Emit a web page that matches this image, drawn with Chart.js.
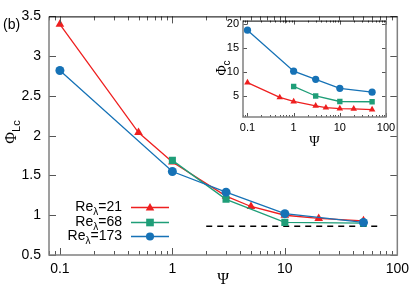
<!DOCTYPE html>
<html><head><meta charset="utf-8">
<script src="https://cdn.jsdelivr.net/npm/chart.js@4/dist/chart.umd.min.js"></script>
<style>
html,body{margin:0;padding:0;background:#fff;}
#wrap{position:relative;width:415px;height:288px;}
#main{position:absolute;left:0;top:0;}
#inset{position:absolute;left:200px;top:10px;}
</style></head>
<body><div id="wrap"><canvas id="main" width="415" height="288"></canvas><canvas id="inset" width="200" height="140"></canvas></div>
<script>
// ---- data (main panel: Phi_Lc vs Psi) ----
const psiRe21 = [0.1, 0.5, 1, 3, 5, 10, 20, 50];
const phiLcRe21 = [3.40, 2.04, 1.67, 1.24, 1.11, 1.00, 0.96, 0.93];
const psiRe68 = [1, 3, 10, 50];
const phiLcRe68 = [1.69, 1.20, 0.91, 0.90];
const psiRe173 = [0.1, 1, 3, 10, 50];
const phiLcRe173 = [2.82, 1.55, 1.29, 1.02, 0.91];
const dashX = [2, 72];
const dashY = [0.86, 0.86];
// ---- data (inset: Phi_c vs Psi) ----
const phiCRe21 = [7.8, 4.7, 3.85, 2.95, 2.55, 2.35, 2.3, 2.15];
const phiCRe68 = [7.0, 5.0, 3.85, 3.8];
const phiCRe173 = [18.8, 10.2, 8.5, 6.6, 5.8];
// ---- ticks / labels ----
const xMajorTicks = [0.1, 1, 10, 100];
const yMainTicks = [0.5, 1, 1.5, 2, 2.5, 3, 3.5];
const yInsetTicks = [5, 10, 15, 20];
const seriesLabels = ['21', '68', '173'];

const RED = '#ee1f1f', GREEN = '#1f9e78', BLUE = '#1672b6';
const FONT = "'Liberation Sans', Arial, sans-serif";
const SERIF = "'Liberation Serif', 'DejaVu Serif', serif";

function pts(xs, ys) { return xs.map((x, i) => ({x: x, y: ys[i]})); }

function frameTicks(chart, o) {
  const ctx = chart.ctx, a = chart.chartArea, sx = chart.scales.x, sy = chart.scales.y;
  ctx.save();
  ctx.strokeStyle = '#555'; ctx.lineWidth = 1;
  ctx.beginPath();
  const xmin = sx.min, xmax = sx.max;
  for (let d = 0.01; d <= 100; d *= 10) {
    for (let k = 1; k <= 9; k++) {
      const v = k * d;
      if (v < xmin * 0.999 || v > xmax * 1.001) continue;
      const p = Math.round(sx.getPixelForValue(v)) + 0.5;
      const len = k === 1 ? o.major : o.minor;
      ctx.moveTo(p, a.bottom); ctx.lineTo(p, a.bottom - len);
      ctx.moveTo(p, a.top); ctx.lineTo(p, a.top + len);
    }
  }
  o.yTicks.forEach(v => {
    const p = Math.round(sy.getPixelForValue(v)) + 0.5;
    ctx.moveTo(a.left, p); ctx.lineTo(a.left + o.major, p);
    ctx.moveTo(a.right, p); ctx.lineTo(a.right - o.major, p);
  });
  ctx.stroke();
  ctx.strokeStyle = '#808080'; ctx.lineWidth = 1.5;
  ctx.beginPath();
  ctx.moveTo(a.left, a.top); ctx.lineTo(a.left, a.bottom); ctx.lineTo(a.right, a.bottom); ctx.lineTo(a.right, a.top);
  ctx.stroke();
  ctx.strokeStyle = '#000'; ctx.lineWidth = 1;
  ctx.beginPath(); ctx.moveTo(a.left, a.top + 0.5); ctx.lineTo(a.right, a.top + 0.5); ctx.stroke();
  ctx.restore();
}

function drawSubLabel(ctx, x, y, main, sub, size, subSize, rotate) {
  ctx.save();
  ctx.translate(x, y);
  if (rotate) ctx.rotate(-Math.PI / 2);
  ctx.fillStyle = '#000';
  ctx.textBaseline = 'alphabetic';
  ctx.font = size + 'px ' + SERIF;
  const w1 = ctx.measureText(main).width;
  ctx.font = subSize + 'px ' + FONT;
  const w2 = ctx.measureText(sub).width;
  const start = -(w1 + w2) / 2;
  ctx.font = size + 'px ' + SERIF;
  ctx.textAlign = 'left';
  ctx.fillText(main, start, size * 0.35);
  ctx.font = subSize + 'px ' + FONT;
  ctx.fillText(sub, start + w1, size * 0.35 + size * 0.3);
  ctx.restore();
}

function marker(ctx, style, x, y, color, r) {
  ctx.save(); ctx.fillStyle = color; ctx.beginPath();
  if (style === 'triangle') { ctx.moveTo(x, y - r); ctx.lineTo(x + r * 0.95, y + r * 0.65); ctx.lineTo(x - r * 0.95, y + r * 0.65); ctx.closePath(); }
  else if (style === 'rect') { ctx.rect(x - r * 0.85, y - r * 0.85, r * 1.7, r * 1.7); }
  else { ctx.arc(x, y, r * 0.9, 0, Math.PI * 2); }
  ctx.fill(); ctx.restore();
}

const mainPlugin = {
  id: 'mainDeco',
  afterDraw(chart) {
    frameTicks(chart, {major: 7, minor: 4, yTicks: yMainTicks});
    const ctx = chart.ctx, a = chart.chartArea;
    // axis titles
    ctx.save(); ctx.fillStyle = '#000'; ctx.font = '16px ' + SERIF; ctx.textAlign = 'center'; ctx.textBaseline = 'middle';
    ctx.fillText('\u03A8', (a.left + a.right) / 2, 280);
    ctx.font = '14px ' + FONT; ctx.textAlign = 'left';
    ctx.fillText('(b)', 3, 25);
    ctx.restore();
    drawSubLabel(ctx, 10, 132, '\u03A6', 'Lc', 16, 11, true);
    // legend
    const rows = [207, 222, 236];
    const cols = [RED, GREEN, BLUE];
    const styles = ['triangle', 'rect', 'circle'];
    rows.forEach((yy, i) => {
      ctx.save();
      ctx.fillStyle = '#000'; ctx.textBaseline = 'middle'; ctx.textAlign = 'left';
      ctx.font = '14px ' + FONT;
      const t1 = 'Re', t3 = '=' + seriesLabels[i];
      const w1 = ctx.measureText(t1).width, w3 = ctx.measureText(t3).width;
      ctx.font = '10px ' + FONT;
      const w2 = ctx.measureText('\u03BB').width;
      const right = 122;
      const x0 = right - w1 - w2 - w3;
      ctx.font = '14px ' + FONT;
      ctx.fillText(t1, x0, yy);
      ctx.font = '10px ' + FONT;
      ctx.fillText('\u03BB', x0 + w1, yy + 5);
      ctx.font = '14px ' + FONT;
      ctx.fillText(t3, x0 + w1 + w2, yy);
      ctx.strokeStyle = cols[i]; ctx.lineWidth = 1.4;
      ctx.beginPath(); ctx.moveTo(131, yy + 0.5); ctx.lineTo(169, yy + 0.5); ctx.stroke();
      marker(ctx, styles[i], 150, yy + 0.5, cols[i], 4.5);
      ctx.restore();
    });
  }
};

function lineDs(label, xs, ys, color, style, r, order) {
  return {label: label, data: pts(xs, ys), borderColor: color, backgroundColor: color,
    borderWidth: 1.3, pointStyle: style, pointRadius: r, pointBorderWidth: 0, pointHoverRadius: r,
    tension: 0, order: order};
}

new Chart(document.getElementById('main'), {
  type: 'line',
  data: {datasets: [
    lineDs('Re=21', psiRe21, phiLcRe21, RED, 'triangle', 5, 3),
    lineDs('Re=68', psiRe68, phiLcRe68, GREEN, 'rect', 5, 2),
    lineDs('Re=173', psiRe173, phiLcRe173, BLUE, 'circle', 4.5, 1),
    {label: 'dash', data: pts(dashX, dashY), borderColor: '#000', borderWidth: 1.5, borderDash: [6, 5], pointRadius: 0, order: 4}
  ]},
  options: {
    responsive: false, animation: false, devicePixelRatio: 1,
    layout: {padding: {left: 0, right: 15, top: 6, bottom: 0}},
    plugins: {legend: {display: false}, tooltip: {enabled: false}},
    scales: {
      x: {type: 'logarithmic', min: 0.08, max: 100,
        grid: {display: false, drawTicks: false}, border: {display: false},
        afterBuildTicks: s => { s.ticks = xMajorTicks.map(v => ({value: v})); },
        afterFit: s => { s.height = 33; },
        ticks: {autoSkip: false, maxRotation: 0, padding: 6, color: '#000', font: {family: FONT, size: 14}, callback: v => String(v)}},
      y: {type: 'linear', min: 0.5, max: 3.5,
        grid: {display: false, drawTicks: false}, border: {display: false},
        afterBuildTicks: s => { s.ticks = yMainTicks.map(v => ({value: v})); },
        afterFit: s => { s.width = 49; },
        ticks: {padding: 8, color: '#000', font: {family: FONT, size: 14}, callback: v => String(v)}}
    }
  },
  plugins: [mainPlugin]
});

const insetPlugin = {
  id: 'insetDeco',
  afterDraw(chart) {
    frameTicks(chart, {major: 4, minor: 2, yTicks: yInsetTicks});
    const ctx = chart.ctx, a = chart.chartArea;
    ctx.save(); ctx.fillStyle = '#000'; ctx.font = '14px ' + SERIF; ctx.textAlign = 'center'; ctx.textBaseline = 'middle';
    ctx.fillText('\u03A8', (a.left + a.right) / 2, 132);
    ctx.restore();
    drawSubLabel(ctx, 21, 58, '\u03A6', 'c', 14, 10, true);
  }
};

new Chart(document.getElementById('inset'), {
  type: 'line',
  data: {datasets: [
    lineDs('Re=21', psiRe21, phiCRe21, RED, 'triangle', 3.8, 3),
    lineDs('Re=68', psiRe68, phiCRe68, GREEN, 'rect', 3.8, 2),
    lineDs('Re=173', psiRe173, phiCRe173, BLUE, 'circle', 3.6, 1)
  ]},
  options: {
    responsive: false, animation: false, devicePixelRatio: 1,
    layout: {padding: {left: 0, right: 14, top: 5, bottom: 0}},
    plugins: {legend: {display: false}, tooltip: {enabled: false}},
    scales: {
      x: {type: 'logarithmic', min: 0.08, max: 100,
        grid: {display: false, drawTicks: false}, border: {display: false},
        afterBuildTicks: s => { s.ticks = xMajorTicks.map(v => ({value: v})); },
        afterFit: s => { s.height = 33; },
        ticks: {autoSkip: false, maxRotation: 0, padding: 4, color: '#000', font: {family: FONT, size: 11}, callback: v => String(v)}},
      y: {type: 'linear', min: 0.6, max: 20.8,
        grid: {display: false, drawTicks: false}, border: {display: false},
        afterBuildTicks: s => { s.ticks = yInsetTicks.map(v => ({value: v})); },
        afterFit: s => { s.width = 43; },
        ticks: {padding: 4, color: '#000', font: {family: FONT, size: 11}, callback: v => String(v)}}
    }
  },
  plugins: [insetPlugin]
});
</script></body></html>
